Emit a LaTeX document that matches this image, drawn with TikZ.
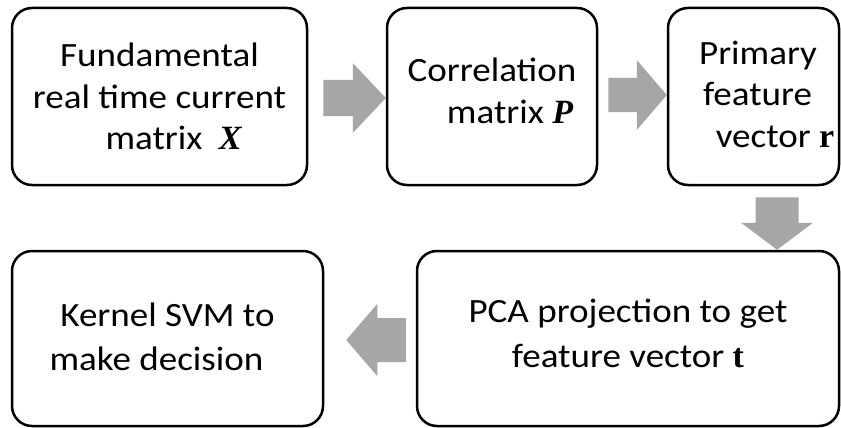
\documentclass[tikz,border=0pt]{standalone}
\usepackage{fontspec}
\setmainfont[FakeStretch=1.09]{Carlito}
\newfontfamily\tmsfont{Liberation Serif}
\usetikzlibrary{calc}
\definecolor{arrowgray}{HTML}{A6A6A6}
\newcommand\bsym[1]{{\tmsfont\fontsize{34pt}{36pt}\selectfont\bfseries #1}}
\newcommand\dep[1]{\rule[-#1]{0pt}{#1}}
\begin{document}
\begin{tikzpicture}[x=1pt,y=-1pt,
  stepbox/.style={draw=black,line width=2.5pt,rounded corners=20pt,fill=white,
    align=center,inner sep=0pt,font=\fontsize{34pt}{41.5pt}\selectfont},
  garrow/.style={fill=arrowgray,draw=none}]
\useasboundingbox (0,0) rectangle (841,428);
\fill[white] (0,0) rectangle (841,428);

\node[stepbox,minimum width=295pt,minimum height=177pt] (b1) at (159.5,96.5)
  {Fundamental\\ real time current\\ \hspace*{28pt}matrix\hspace{8pt} \bsym{\itshape X}};
\node[stepbox,minimum width=210pt,minimum height=177pt] (b2) at (492,96.5)
  {Correlation\\ \hspace*{36pt}matrix \bsym{\itshape P}\dep{12pt}};
\node[stepbox,minimum width=171pt,minimum height=177pt] (b3) at (753.5,96.5)
  {\hspace*{9pt}Primary\\ \hspace*{8pt}feature\\ \hspace*{43pt}vector \bsym{r}\dep{5pt}};
\node[stepbox,minimum width=422pt,minimum height=175pt,
  font=\fontsize{34pt}{45pt}\selectfont] (b4) at (628,338.5)
  {PCA projection to get\\ feature vector \bsym{t}\dep{11pt}};
\node[stepbox,minimum width=311pt,minimum height=175pt,
  font=\fontsize{34pt}{44pt}\selectfont] (b5) at (167.5,338.5)
  {Kernel SVM to\\ make decision\hspace*{22pt}\dep{3pt}};

% arrow b1 -> b2
\coordinate (a1s) at ($(b1.east)+(15,1.5)$);
\coordinate (a1t) at ($(b2.west)+(0,1.5)$);
\fill[garrow] (a1t) -- ($(a1t)+(-33,-35)$) -- ($(a1t)+(-33,-18)$) -- ($(a1s)+(0,-18)$)
  -- ($(a1s)+(0,18)$) -- ($(a1t)+(-33,18)$) -- ($(a1t)+(-33,35)$) -- cycle;
% arrow b2 -> b3
\coordinate (a2s) at ($(b2.east)+(10,-1.5)$);
\coordinate (a2t) at ($(b3.west)+(0,-1.5)$);
\fill[garrow] (a2t) -- ($(a2t)+(-30,-35)$) -- ($(a2t)+(-30,-17)$) -- ($(a2s)+(0,-17)$)
  -- ($(a2s)+(0,17)$) -- ($(a2t)+(-30,17)$) -- ($(a2t)+(-30,35)$) -- cycle;
% arrow b3 -> b4
\coordinate (a3s) at ($(b3.south)+(23.5,11)$);
\coordinate (a3t) at (a3s |- b4.north);
\fill[garrow] (a3t) -- ($(a3t)+(-36,-27)$) -- ($(a3t)+(-21.5,-27)$) -- ($(a3s)+(-21.5,0)$)
  -- ($(a3s)+(21.5,0)$) -- ($(a3t)+(21.5,-27)$) -- ($(a3t)+(36,-27)$) -- cycle;
% arrow b4 -> b5
\coordinate (a4s) at ($(b4.west)+(-10,1.5)$);
\coordinate (a4t) at ($(b5.east)+(22,1.5)$);
\fill[garrow] (a4t) -- ($(a4t)+(31,-36)$) -- ($(a4t)+(31,-22)$) -- ($(a4s)+(0,-22)$)
  -- ($(a4s)+(0,22)$) -- ($(a4t)+(31,22)$) -- ($(a4t)+(31,36)$) -- cycle;
\end{tikzpicture}
\end{document}
